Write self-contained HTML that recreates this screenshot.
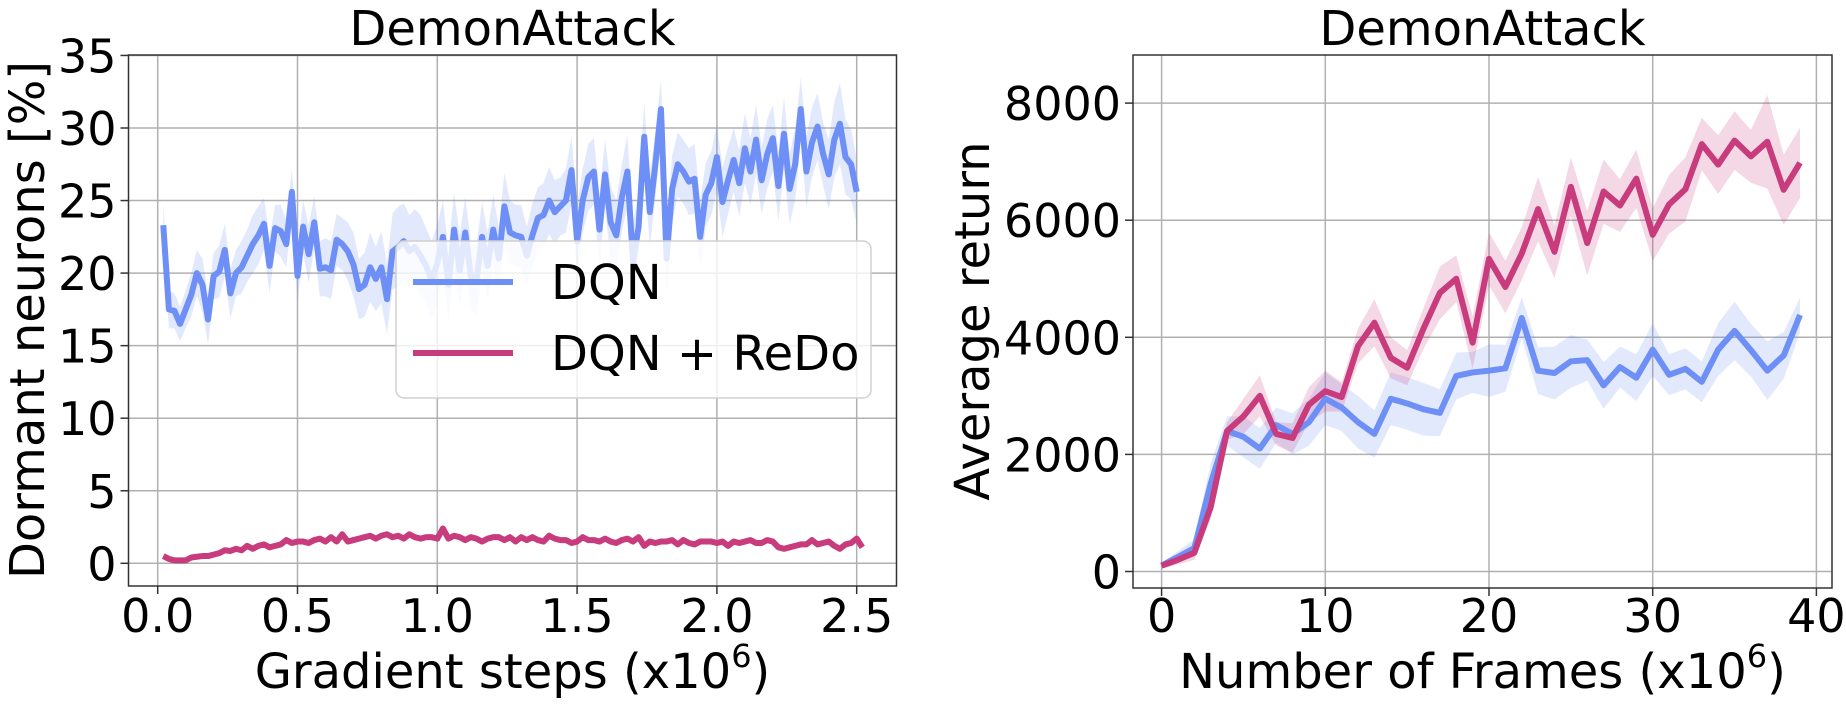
<!DOCTYPE html>
<html><head><meta charset="utf-8">
<style>
html,body{margin:0;padding:0;background:#fff;}
svg{display:block;font-family:"DejaVu Sans","Liberation Sans",sans-serif;}
</style></head>
<body>
<svg id="chart" width="1846" height="710" viewBox="0 0 1846 710" xmlns="http://www.w3.org/2000/svg">
<g id="left"></g>
<g id="right"></g>
</svg>
<script>
// ---- Left chart data ----
const leftXStart = 0.02;
const leftXStep = 0.02;
const leftXTicks = [0.0, 0.5, 1.0, 1.5, 2.0, 2.5];
const leftYTicks = [0, 5, 10, 15, 20, 25, 30, 35];
const dqnDormant = [23.3,17.5,17.4,16.5,17.5, 18.5,20,19.2,16.8,19.8, 20.1,21.6,18.6,20,20.4, 21.2,22.0,22.6,23.4,20.5,
 23.1,22.9,22.0,25.6,19.8, 23.2,21.3,23.5,20.3,20.4, 20.2,22.3,22.0,21.5,20.6, 18.9,19.2,20.4,19.6,20.4,
 18.2,21.5,21.8,22.2,21.5, 21.8,21.2,20.5,19.5,20.7, 22.5,19.2,23.0,20.2,22.8, 19.8,19.5,22.5,20.5,23.0,
 21.0,24.6,22.8,22.6,22.5, 21.2,22.6,23.8,24.0,25.0, 24.2,24.6,25.0,27.1,22.2, 25.0,26.6,27.0,23.0,26.8,
 23.5,22.6,25.2,27.0,20.8, 23.2,29.4,24.2,27.5,31.3, 21.0,25.8,27.5,27.0,26.3, 26.5,22.5,25.4,26.2,28.0,
 24.9,26.4,27.8,26.2,28.6, 27.0,29.2,26.4,28.2,29.3, 26.0,29.6,25.8,27.5,31.3, 27.0,29.0,30.1,28.2,26.8,
 29.2,30.3,28.0,27.5,25.6];
const dqnDormantStd = [1.5,1.3,1.2,1.2,1.3, 1.5,1.6,1.8,1.7,1.6, 1.8,1.8,1.7,1.6,1.8, 1.8,2.0,2.0,1.8,1.9,
 1.6,1.8,1.6,1.6,1.8, 1.8,2.0,1.8,1.9,2.0, 2.0,1.8,1.8,2.0,2.2, 2.1,2.2,2.4,2.2,2.5,
 2.4,2.6,2.8,2.6,2.5, 2.6,2.8,2.6,2.7,2.6, 2.5,2.4,2.6,2.4,2.5, 2.3,2.4,2.4,2.3,2.4,
 2.2,2.3,2.2,2.1,2.2, 2.0,2.2,2.1,2.2,2.3, 2.2,2.0,2.2,2.3,2.4, 2.2,2.3,2.3,2.4,2.4,
 2.5,2.4,2.3,2.5,2.6, 2.4,2.3,2.4,2.3,2.0, 2.6,2.3,2.2,2.2,2.3, 2.4,2.5,2.2,2.2,2.3,
 2.4,2.3,2.2,2.3,2.4, 2.3,2.4,2.3,2.4,2.3, 2.4,2.5,2.4,2.5,2.2, 2.4,2.4,2.3,2.2,2.4,
 2.6,2.8,2.6,2.4,2.2];
const redoDormant = [0.5,0.3,0.2,0.2,0.2, 0.4,0.45,0.5,0.5,0.6, 0.7,0.9,0.85,1.0,0.9, 1.2,1.0,1.2,1.3,1.1,
 1.2,1.3,1.6,1.4,1.5, 1.5,1.4,1.6,1.7,1.5, 1.8,1.5,2.0,1.5,1.6, 1.7,1.8,1.9,1.7,1.9,
 2.0,1.8,1.9,1.7,2.0, 1.8,1.7,1.8,1.8,1.7, 2.4,1.7,1.9,1.8,1.6, 1.8,1.7,1.5,1.7,1.8,
 1.8,1.6,1.8,1.5,1.8, 1.6,1.8,1.6,1.5,1.9, 1.7,1.6,1.6,1.4,1.5, 1.8,1.6,1.6,1.5,1.7,
 1.5,1.4,1.6,1.7,1.5, 1.8,1.2,1.5,1.4,1.5, 1.5,1.6,1.3,1.6,1.4, 1.3,1.5,1.5,1.5,1.4,
 1.5,1.2,1.5,1.4,1.5, 1.6,1.4,1.4,1.6,1.5, 1.1,1.0,1.1,1.2,1.3, 1.3,1.6,1.3,1.4,1.5,
 1.2,1.0,1.3,1.4,1.7, 1.1];
const redoDormantStd = 0.15;

// ---- Right chart data ----
const frames = [0,1,2,3,4,5,6,7,8,9,10,11,12,13,14,15,16,17,18,19,20,21,22,23,24,25,26,27,28,29,30,31,32,33,34,35,36,37,38,39];
const rightXTicks = [0, 10, 20, 30, 40];
const rightYTicks = [0, 2000, 4000, 6000, 8000];
const dqnReturn = [100,250,400,1500,2400,2300,2100,2500,2350,2550,2950,2800,2550,2350,2950,2870,2770,2710,3340,3400,3430,3470,4330,3430,3390,3590,3610,3180,3490,3310,3790,3360,3460,3240,3790,4110,3780,3430,3690,4380];
const dqnReturnStd = [50,100,150,350,250,350,350,300,350,400,450,400,450,400,450,450,450,400,400,350,450,400,350,400,450,450,350,400,350,400,450,350,350,350,450,500,450,500,400,300];
const redoReturn = [100,200,320,1100,2400,2650,3000,2350,2280,2850,3080,2980,3850,4250,3650,3480,4150,4760,5000,3910,5340,4860,5430,6190,5460,6570,5610,6490,6250,6710,5750,6270,6530,7300,6950,7360,7090,7340,6520,6980];
const redoReturnStd = [50,80,120,200,150,300,350,200,250,300,350,250,300,400,350,300,350,450,400,450,450,450,450,550,450,500,550,550,450,500,450,500,550,450,500,500,450,800,600,600];

const NS = "http://www.w3.org/2000/svg";
const BLUE = "#6d8ff6", PINK = "#c83b7c";
const FS = 46;   // tick labels
const FL = 48;   // titles, axis labels, legend
function mk(parent, tag, attrs, text) {
  const el = document.createElementNS(NS, tag);
  for (const k in attrs) el.setAttribute(k, attrs[k]);
  if (text !== undefined) el.textContent = text;
  parent.appendChild(el);
  return el;
}

// ---- Left axes ----
const L = {x0:128.5, x1:896.5, y0:55, y1:586};
const lx = v => 157.7 + v * 279.6;
const ly = v => 563.3 - v * 14.51;
const gl = document.getElementById('left');

leftXTicks.forEach(t => {
  const g = mk(gl,'line',{x1:lx(t),x2:lx(t),y1:L.y0,y2:L.y1,stroke:'#b0b0b0','stroke-width':1.5});
   
  const tk = mk(gl,'line',{x1:lx(t),x2:lx(t),y1:L.y1,y2:L.y1+8,stroke:'#333','stroke-width':1.5});
   
  const lb = mk(gl,'text',{x:lx(t),y:L.y1+46,'font-size':FS,'text-anchor':'middle',fill:'#000'},t.toFixed(1));
   
});
leftYTicks.forEach(t => {
  const g = mk(gl,'line',{x1:L.x0,x2:L.x1,y1:ly(t),y2:ly(t),stroke:'#b0b0b0','stroke-width':1.5});
   
  const tk = mk(gl,'line',{x1:L.x0-8,x2:L.x0,y1:ly(t),y2:ly(t),stroke:'#333','stroke-width':1.5});
   
  const lb = mk(gl,'text',{x:L.x0-12,y:ly(t)+17,'font-size':FS,'text-anchor':'end',fill:'#000'},String(t));
   
});

function bandPath(xs, ys, sd, fx, fy) {
  let up = [], dn = [];
  for (let i = 0; i < ys.length; i++) {
    const s = Array.isArray(sd) ? sd[i] : sd;
    up.push(fx(xs[i]) + ',' + fy(ys[i] + s));
    dn.push(fx(xs[i]) + ',' + fy(ys[i] - s));
  }
  return 'M' + up.join('L') + 'L' + dn.reverse().join('L') + 'Z';
}
function linePath(xs, ys, fx, fy) {
  return 'M' + ys.map((v,i) => fx(xs[i]) + ',' + fy(v)).join('L');
}
const leftX = dqnDormant.map((_, i) => leftXStart + i * leftXStep);
const leftX2 = redoDormant.map((_, i) => leftXStart + i * leftXStep);

let e;
e = mk(gl,'path',{d:bandPath(leftX,dqnDormant,dqnDormantStd,lx,ly),fill:BLUE,'fill-opacity':0.2,stroke:'none'});
 
e = mk(gl,'path',{d:bandPath(leftX2,redoDormant,redoDormantStd,lx,ly),fill:PINK,'fill-opacity':0.2,stroke:'none'});
 
e = mk(gl,'path',{d:linePath(leftX,dqnDormant,lx,ly),fill:'none',stroke:BLUE,'stroke-width':6,'stroke-linejoin':'round'});
 
e = mk(gl,'path',{d:linePath(leftX2,redoDormant,lx,ly),fill:'none',stroke:PINK,'stroke-width':6,'stroke-linejoin':'round'});
 

e = mk(gl,'rect',{x:L.x0,y:L.y0,width:L.x1-L.x0,height:L.y1-L.y0,fill:'none',stroke:'#333','stroke-width':1.5});
 
e = mk(gl,'text',{x:(L.x0+L.x1)/2,y:45,'font-size':FL,'text-anchor':'middle'},'DemonAttack');
 
e = mk(gl,'text',{x:(L.x0+L.x1)/2,y:688,'font-size':FL,'text-anchor':'middle'});
 
e.appendChild(document.createTextNode('Gradient steps (x10'));
mk(e,'tspan',{'font-size':32,dy:-21},'6');
mk(e,'tspan',{dy:21},')');
e = mk(gl,'text',{x:0,y:0,'font-size':FL,'text-anchor':'middle',transform:'translate(44,320) rotate(-90)'},'Dormant neurons [%]');
 

// legend
const lg = mk(gl,'g',{});
 
e = mk(lg,'rect',{x:396,y:241,width:475,height:157,rx:8,fill:'#fff','fill-opacity':0.8,stroke:'#d0d0d0','stroke-width':1.5});
 
e = mk(lg,'line',{x1:413,x2:513,y1:282,y2:282,stroke:BLUE,'stroke-width':6});
 
e = mk(lg,'text',{x:551,y:299,'font-size':FL},'DQN');
 
e = mk(lg,'line',{x1:413,x2:513,y1:353,y2:353,stroke:PINK,'stroke-width':6});
 
e = mk(lg,'text',{x:551,y:370,'font-size':FL},'DQN + ReDo');
 

// ---- Right axes ----
const R = {x0:1133, x1:1832, y0:55, y1:588};
const rx = v => 1161.6 + v * 16.37;
const ry = v => 571.5 - v * 0.05855;
const gr = document.getElementById('right');

rightXTicks.forEach(t => {
  const g = mk(gr,'line',{x1:rx(t),x2:rx(t),y1:R.y0,y2:R.y1,stroke:'#b0b0b0','stroke-width':1.5});
   
  const tk = mk(gr,'line',{x1:rx(t),x2:rx(t),y1:R.y1,y2:R.y1+8,stroke:'#333','stroke-width':1.5});
   
  const lb = mk(gr,'text',{x:rx(t),y:R.y1+44,'font-size':FS,'text-anchor':'middle'},String(t));
   
});
rightYTicks.forEach(t => {
  const g = mk(gr,'line',{x1:R.x0,x2:R.x1,y1:ry(t),y2:ry(t),stroke:'#b0b0b0','stroke-width':1.5});
   
  const tk = mk(gr,'line',{x1:R.x0-8,x2:R.x0,y1:ry(t),y2:ry(t),stroke:'#333','stroke-width':1.5});
   
  const lb = mk(gr,'text',{x:R.x0-12,y:ry(t)+17,'font-size':FS,'text-anchor':'end'},String(t));
   
});
e = mk(gr,'path',{d:bandPath(frames,dqnReturn,dqnReturnStd,rx,ry),fill:BLUE,'fill-opacity':0.2,stroke:'none'});
 
e = mk(gr,'path',{d:bandPath(frames,redoReturn,redoReturnStd,rx,ry),fill:PINK,'fill-opacity':0.2,stroke:'none'});
 
e = mk(gr,'path',{d:linePath(frames,dqnReturn,rx,ry),fill:'none',stroke:BLUE,'stroke-width':6,'stroke-linejoin':'round'});
 
e = mk(gr,'path',{d:linePath(frames,redoReturn,rx,ry),fill:'none',stroke:PINK,'stroke-width':6,'stroke-linejoin':'round'});
 
e = mk(gr,'rect',{x:R.x0,y:R.y0,width:R.x1-R.x0,height:R.y1-R.y0,fill:'none',stroke:'#333','stroke-width':1.5});
 
e = mk(gr,'text',{x:(R.x0+R.x1)/2,y:45,'font-size':FL,'text-anchor':'middle'},'DemonAttack');
 
e = mk(gr,'text',{x:(R.x0+R.x1)/2,y:688,'font-size':FL,'text-anchor':'middle'});
 
e.appendChild(document.createTextNode('Number of Frames (x10'));
mk(e,'tspan',{'font-size':32,dy:-21},'6');
mk(e,'tspan',{dy:21},')');
e = mk(gr,'text',{x:0,y:0,'font-size':FL,'text-anchor':'middle',transform:'translate(989,321) rotate(-90)'},'Average return');
 
</script>
</body></html>
